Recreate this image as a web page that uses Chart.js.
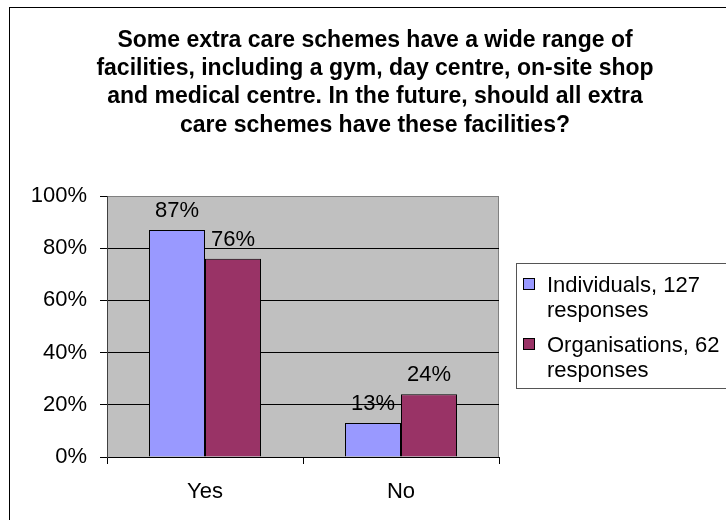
<!DOCTYPE html>
<html>
<head>
<meta charset="utf-8">
<script src="https://cdn.jsdelivr.net/npm/chart.js@4.4.1/dist/chart.umd.min.js"></script>
<style>
  body { margin: 0; background: #fff; }
  #wrap { width: 726px; height: 520px; }
</style>
</head>
<body>
<div id="wrap"><canvas id="myChart" width="726" height="520"></canvas></div>
<script>
const categories = ['Yes', 'No'];
const individuals = [87, 13];
const organisations = [76, 24];
const seriesNames = [['Individuals, 127', 'responses'], ['Organisations, 62', 'responses']];
const titleLines = [
  'Some extra care schemes have a wide range of',
  'facilities, including a gym, day centre, on-site shop',
  'and medical centre. In the future, should all extra',
  'care schemes have these facilities?'
];
const FONT = "'Liberation Sans', Arial, sans-serif";

// background, outer frame, plot area fill
const framePlugin = {
  id: 'frame',
  beforeDraw(chart) {
    const ctx = chart.ctx
    const a = chart.chartArea
    ctx.save()
    ctx.fillStyle = '#fff'
    ctx.fillRect(0, 0, chart.width, chart.height)
    ctx.strokeStyle = '#000'
    ctx.lineWidth = 1
    ctx.strokeRect(9.5, 7.5, 800, 600)
    ctx.fillStyle = '#C0C0C0'
    ctx.fillRect(a.left, a.top, a.right - a.left, a.bottom - a.top)
    ctx.strokeStyle = '#808080'
    ctx.strokeRect(a.left + 0.5, a.top + 0.5, a.right - a.left - 1, a.bottom - a.top)
    ctx.restore()
  },
  afterDraw(chart) {
    const ctx = chart.ctx
    ctx.save()
    // title
    ctx.fillStyle = '#000'
    ctx.font = 'bold 23px ' + FONT
    ctx.textAlign = 'center'
    ctx.textBaseline = 'alphabetic'
    titleLines.forEach((t, i) => ctx.fillText(t, 375, 47 + i * 28.2))
    // legend
    ctx.strokeStyle = '#555'
    ctx.strokeRect(516.5, 263.5, 300, 125)
    ctx.font = '22px ' + FONT
    ctx.textAlign = 'left'
    chart.data.datasets.forEach((ds, i) => {
      const base = 292 + i * 60
      ctx.fillStyle = ds.backgroundColor
      ctx.fillRect(523, base - 14, 12, 12)
      ctx.strokeStyle = '#000'
      ctx.strokeRect(523.5, base - 13.5, 11, 11)
      ctx.fillStyle = '#000'
      seriesNames[i].forEach((l, j) => ctx.fillText(l, 547, base + j * 25))
    })
    ctx.restore()
  },
  afterDatasetsDraw(chart) {
    const ctx = chart.ctx
    ctx.save()
    ctx.font = '22px ' + FONT
    ctx.fillStyle = '#000'
    ctx.textAlign = 'center'
    ctx.textBaseline = 'alphabetic'
    chart.data.datasets.forEach((ds, i) => {
      chart.getDatasetMeta(i).data.forEach((el, j) => {
        ctx.fillText(ds.data[j] + '%', el.x, el.y - 13)
      })
    })
    ctx.restore()
  }
}

new Chart('myChart', {
  type: 'bar',
  data: {
    labels: categories,
    datasets: [{
      label: seriesNames[0].join(' '),
      data: individuals,
      backgroundColor: '#9999FF',
      borderColor: '#000',
      borderWidth: 1
    }, {
      label: seriesNames[1].join(' '),
      data: organisations,
      backgroundColor: '#993366',
      borderColor: '#000',
      borderWidth: 1
    }]
  },
  options: {
    responsive: false,
    animation: false,
    layout: { padding: { top: 196, right: 227, bottom: 0, left: 0 } },
    datasets: { bar: { categoryPercentage: 0.5714, barPercentage: 1 } },
    plugins: {
      legend: { display: false },
      title: { display: false },
      tooltip: { enabled: false }
    },
    scales: {
      x: {
        afterFit(s) { s.height = 63 },
        grid: { offset: true, drawOnChartArea: false, tickLength: 7, tickColor: '#000' },
        border: { display: true, color: '#000' },
        ticks: { color: '#000', font: { family: FONT, size: 22 }, padding: 15 }
      },
      y: {
        min: 0,
        max: 100,
        afterFit(s) { s.width = 107 },
        grid: {
          color: ctx => ctx.tick && ctx.tick.value === 100 ? '#808080' : '#000',
          tickLength: 7,
          tickColor: '#000'
        },
        border: { display: true, color: '#404040' },
        ticks: {
          stepSize: 20,
          padding: 13,
          color: '#000',
          font: { family: FONT, size: 22 },
          callback: v => v + '%'
        }
      }
    }
  },
  plugins: [framePlugin]
})
</script>
</body>
</html>
